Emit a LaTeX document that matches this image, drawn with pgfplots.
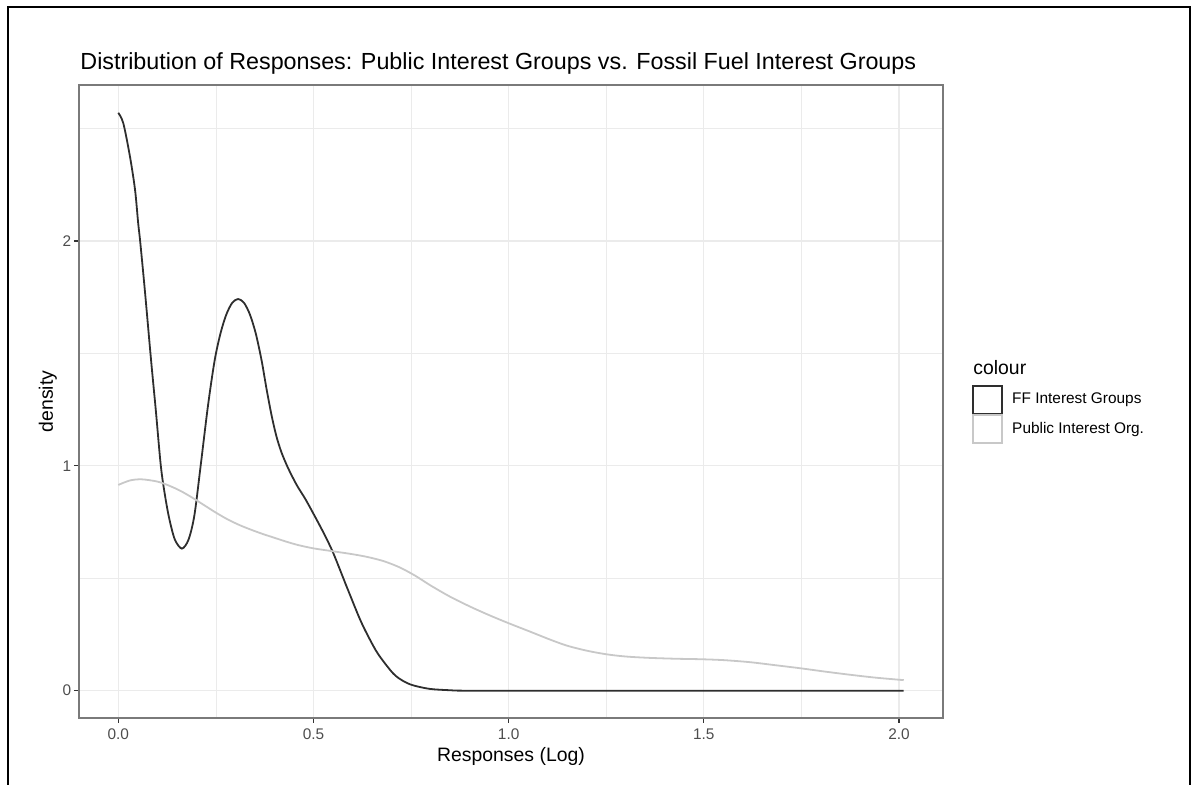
\documentclass[border=0pt]{standalone}
\usepackage{pgfplots}
\pgfplotsset{compat=1.18}
\usepackage{pgfplotstable}
\usepackage{fontspec}
\setmainfont{Liberation Sans}

\definecolor{ffline}{HTML}{2E2E2E}
\definecolor{publine}{HTML}{C8C8C8}
\definecolor{gridcol}{HTML}{EBEBEB}
\definecolor{tickcol}{HTML}{333333}
\definecolor{ticklab}{HTML}{4D4D4D}
\definecolor{bordercol}{HTML}{7A7A7A}

% Kernel density estimates of log responses
\pgfplotstableread{
x      y
0.000  2.570
0.013  2.523
0.030  2.375
0.043  2.227
0.051  2.079
0.056  2.000
0.068  1.782
0.084  1.470
0.096  1.250
0.109  1.000
0.120  0.865
0.131  0.762
0.145  0.672
0.163  0.632
0.180  0.672
0.195  0.780
0.211  1.000
0.230  1.270
0.247  1.470
0.262  1.590
0.277  1.674
0.292  1.725
0.307  1.742
0.322  1.725
0.337  1.674
0.352  1.590
0.367  1.470
0.380  1.340
0.393  1.222
0.405  1.132
0.418  1.060
0.435  0.990
0.457  0.915
0.480  0.850
0.504  0.774
0.528  0.695
0.551  0.611
0.585  0.463
0.619  0.318
0.642  0.236
0.666  0.162
0.704  0.077
0.730  0.043
0.755  0.024
0.798  0.008
0.850  0.002
0.900  0.000
1.200  0.000
1.600  0.000
2.012  0.000
}\ffdata

\pgfplotstableread{
x      y
0.000  0.915
0.030  0.935
0.060  0.940
0.100  0.930
0.130  0.912
0.160  0.888
0.190  0.858
0.220  0.825
0.250  0.792
0.280  0.762
0.310  0.737
0.340  0.716
0.370  0.697
0.400  0.680
0.430  0.663
0.460  0.648
0.500  0.633
0.550  0.620
0.600  0.607
0.640  0.594
0.680  0.576
0.720  0.549
0.760  0.512
0.800  0.468
0.850  0.418
0.900  0.375
0.950  0.336
1.000  0.300
1.050  0.266
1.105  0.228
1.150  0.200
1.200  0.178
1.250  0.162
1.300  0.152
1.360  0.146
1.430  0.142
1.490  0.140
1.550  0.136
1.617  0.127
1.680  0.114
1.746  0.100
1.810  0.085
1.874  0.071
1.940  0.058
2.012  0.047
}\pubdata

\begin{document}
\begin{tikzpicture}
\useasboundingbox (0,0) rectangle (597pt,392.5pt);
% outer frame
\draw[line width=1pt] (3.75pt,-1pt) -- (3.75pt,388.75pt) -- (595pt,388.75pt) -- (595pt,-1pt);
\begin{axis}[
  at={(39.5pt,33.5pt)}, anchor=south west,
  scale only axis, width=432pt, height=316.5pt,
  xmin=-0.1006, xmax=2.1126, ymin=-0.1214, ymax=2.6937,
  xtick={0,0.5,1,1.5,2}, xticklabels={0.0,0.5,1.0,1.5,2.0},
  ytick={0,1,2}, yticklabels={0,1,2},
  minor xtick={0.25,0.75,1.25,1.75}, minor ytick={0.5,1.5,2.5},
  grid=both,
  major grid style={gridcol, line width=0.6pt},
  minor grid style={gridcol, line width=0.3pt},
  axis line style={bordercol, line width=0.6pt},
  tick align=outside, tick pos=left,
  major tick length=2.5pt, minor tick length=0pt,
  tick style={tickcol, line width=0.55pt},
  xticklabel style={font=\fontsize{7.7}{9}\selectfont, text=ticklab, inner sep=0pt, anchor=north, yshift=-2.75pt},
  yticklabel style={font=\fontsize{7.7}{9}\selectfont, text=ticklab, inner sep=0pt, anchor=east, xshift=-1.25pt},
  xlabel={Responses (Log)},
  ylabel={density},
  xlabel style={font=\fontsize{9.7}{11}\selectfont, inner sep=0pt, at={(axis description cs:0.5,-0.0611)}, anchor=center},
  ylabel style={font=\fontsize{9.7}{11}\selectfont, inner sep=0pt, at={(axis description cs:-0.0359,0.5)}, anchor=center},
  legend style={at={(1.0336,0.526)}, anchor=north west, draw=none, fill=none,
    inner sep=0pt, outer sep=0pt, row sep=0pt,
    nodes={inner sep=0pt},
    font=\fontsize{7.7}{9}\selectfont,
    /tikz/every odd column/.append style={column sep=4.6pt}},
  legend cell align=left,
  legend image code/.code={\draw[#1] (0pt,-6.9pt) rectangle (14.6pt,6.9pt);},
  clip=false,
]
\addplot[ffline, line width=0.9pt, smooth, tension=0.5] table[x=x, y=y] {\ffdata};
\addlegendentry{FF Interest Groups}
\addplot[publine, line width=0.9pt, smooth, tension=0.5] table[x=x, y=y] {\pubdata};
\addlegendentry{Public Interest Org.}

\node[anchor=base west, inner sep=0pt, font=\fontsize{11.65}{14}\selectfont] at (rel axis cs:0.0012,1.0237)
  {Distribution of Responses: Public Interest Groups vs. Fossil Fuel Interest Groups};
\node[anchor=west, inner sep=0pt, font=\fontsize{9.7}{11}\selectfont] at (rel axis cs:1.0347,0.5537) {colour};
\end{axis}
\end{tikzpicture}
\end{document}
